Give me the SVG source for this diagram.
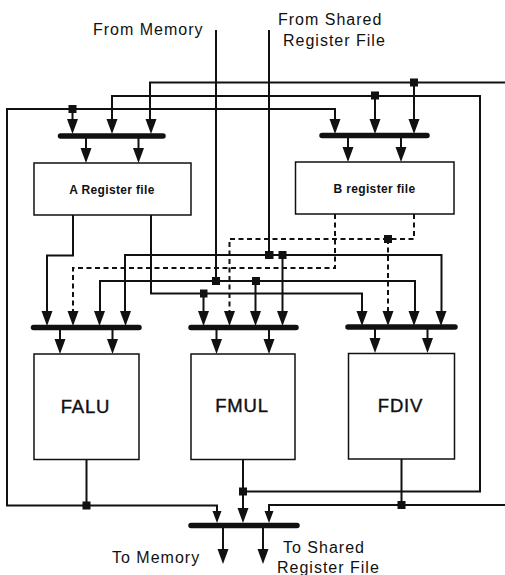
<svg xmlns="http://www.w3.org/2000/svg" width="505" height="575" viewBox="0 0 505 575">
<defs>
<path id="a" d="M-5.500 -15 L5.500 -15 L0 0 Z" fill="#111"/>
</defs>
<style>
rect.box{fill:#fff;stroke:#111;stroke-width:1.500}
.w{fill:none;stroke:#111;stroke-width:2}
.d{fill:none;stroke:#111;stroke-width:2;stroke-dasharray:5 3.500}
.bus{stroke:#111;stroke-width:5.500;stroke-linecap:round}
.dot{fill:#111}
text{font-family:"Liberation Sans",Arial,sans-serif;fill:#111}
.l{font-size:16px;letter-spacing:1px}
.s{font-size:12px;font-weight:bold;letter-spacing:.35px}
.b{font-size:18.500px;letter-spacing:.8px;stroke:#111;stroke-width:.4px}
</style>
<g id="connectors">
<path class="w" d="M505 82.500H150V122M414 82.500V122"/>
<path class="w" d="M112 122V96H480V491.500H243M375 96V122"/>
<path class="w" d="M72.500 122V109H335V122M72.500 109H7V505.500H217V512"/>
<path class="w" d="M216 30V281M269 30V255"/>
<path class="w" d="M125 314V255H441.500V314M282.500 255V314"/>
<path class="w" d="M100 314V281H415V314M255.500 281V314"/>
<path class="w" d="M73 215V255.500H47V314"/>
<path class="w" d="M151 215V293.500H362V314M203.500 293.500V314"/>
<path class="d" d="M335 214V268H73V314"/>
<path class="d" d="M414 214V239H229.500V314M388 239V314"/>
<path class="w" d="M86.500 459V505.500M243 459V512M401.500 459V505.500M505 505H269V512"/>
<path class="w" d="M86 136V150M138.500 136V150M348 136V150M401 136V150M60 327V340M112.500 327V340M216.500 327V340M269 327V340M375 327V340M427.500 327V340M223 525V552M263 525V552"/>
<use href="#a" x="72.500" y="134"/><use href="#a" x="112" y="134"/><use href="#a" x="151" y="134"/>
<use href="#a" x="335" y="134"/><use href="#a" x="375" y="134"/><use href="#a" x="414" y="134"/>
<use href="#a" x="86" y="163"/><use href="#a" x="138.500" y="163"/><use href="#a" x="348" y="162"/><use href="#a" x="401" y="162"/>
<use href="#a" x="47" y="326"/><use href="#a" x="73" y="326"/><use href="#a" x="99.500" y="326"/><use href="#a" x="125.500" y="326"/>
<use href="#a" x="203.500" y="326"/><use href="#a" x="229.500" y="326"/><use href="#a" x="255.500" y="326"/><use href="#a" x="282.500" y="326"/>
<use href="#a" x="362" y="326"/><use href="#a" x="388" y="326"/><use href="#a" x="414" y="326"/><use href="#a" x="441" y="326"/>
<use href="#a" x="60" y="354"/><use href="#a" x="112.500" y="354"/><use href="#a" x="216.500" y="354"/><use href="#a" x="269" y="354"/><use href="#a" x="375" y="353"/><use href="#a" x="427.500" y="353"/>
<path d="M212.500 511H221.500L217 523Z" fill="#111"/><path d="M264.500 511H273.500L269 523Z" fill="#111"/><use href="#a" x="243" y="523"/>
<use href="#a" x="223" y="564"/><use href="#a" x="263" y="564"/>
<rect class="dot" x="410" y="78.500" width="8" height="8"/><rect class="dot" x="371" y="91.500" width="8" height="8"/><rect class="dot" x="68.500" y="105" width="8" height="8"/>
<rect class="dot" x="384" y="235" width="8" height="8"/><rect class="dot" x="265" y="251" width="8.500" height="8"/><rect class="dot" x="278.500" y="251" width="8" height="8"/>
<rect class="dot" x="212" y="277" width="8" height="8"/><rect class="dot" x="252" y="277" width="8" height="8"/><rect class="dot" x="200" y="289.500" width="7.500" height="8"/>
<rect class="dot" x="239" y="487.500" width="8" height="8"/><rect class="dot" x="82.500" y="501.500" width="8" height="8"/><rect class="dot" x="397.500" y="501" width="8" height="8"/>
<path class="bus" d="M60.500 136H163M322 135.500H427M33.500 327.500H139M191 327.500H296M348 327H455M191 525.500H297"/>
</g>
<g id="node-a"><rect class="box" x="34" y="163" width="157" height="52"/><text class="s" x="112" y="193.500" text-anchor="middle">A Register file</text></g>
<g id="node-b"><rect class="box" x="295.500" y="162" width="158.500" height="52"/><text class="s" x="374.500" y="192.500" text-anchor="middle">B register file</text></g>
<g id="node-falu"><rect class="box" x="34" y="354" width="105" height="105.500"/><text class="b" x="85.500" y="413" text-anchor="middle">FALU</text></g>
<g id="node-fmul"><rect class="box" x="191" y="354" width="104" height="105.500"/><text class="b" x="242" y="412" text-anchor="middle">FMUL</text></g>
<g id="node-fdiv"><rect class="box" x="348.500" y="353.500" width="106" height="105.500"/><text class="b" x="400.500" y="412" text-anchor="middle">FDIV</text></g>
<g id="labels">
<text class="l" x="93" y="35">From Memory</text>
<text class="l" x="278" y="25">From Shared</text>
<text class="l" x="283" y="46">Register File</text>
<text class="l" x="112" y="563">To Memory</text>
<text class="l" x="283" y="552.500">To Shared</text>
<text class="l" x="277" y="573">Register File</text>
</g>
</svg>
